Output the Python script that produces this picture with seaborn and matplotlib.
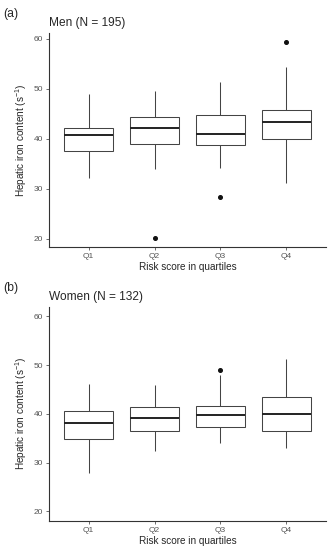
import pandas as pd
import matplotlib
matplotlib.use("Agg")
import matplotlib.pyplot as plt
import seaborn as sns

# Box summaries (whisker ends, quartiles, median, outliers)
quartiles = ["Q1", "Q2", "Q3", "Q4"]

men_lo = [32.2, 33.9, 34.2, 31.1]
men_q1 = [37.5, 38.9, 38.7, 39.9]
men_med = [40.8, 42.1, 41.0, 43.3]
men_q3 = [42.2, 44.4, 44.8, 45.8]
men_hi = [49.0, 49.5, 51.4, 54.4]
men_out = [[], [20.2], [28.4], [59.3]]

women_lo = [27.8, 32.4, 34.0, 33.0]
women_q1 = [34.8, 36.4, 37.3, 36.5]
women_med = [38.2, 39.2, 39.7, 40.0]
women_q3 = [40.6, 41.5, 41.6, 43.5]
women_hi = [46.2, 46.0, 47.9, 51.3]
women_out = [[], [], [49.1], []]

sns.set_theme(style="white")
plt.rcParams['font.family'] = ['Liberation Sans', 'DejaVu Sans']
plt.rcParams['mathtext.fontset'] = 'custom'
plt.rcParams['mathtext.rm'] = 'Liberation Sans'
plt.rcParams['mathtext.it'] = 'Liberation Sans'
plt.rcParams['mathtext.default'] = 'regular'


def to_long(lo, q1, med, q3, hi, out):
    # points whose quartiles and whiskers reproduce the read-off summaries
    rows = []
    for g, a, b, c, d, e, o in zip(quartiles, lo, q1, med, q3, hi, out):
        vals = [a] + [b] * 3 + [c] * 3 + [d] * 3 + [e] + list(o)
        rows += [(g, v) for v in vals]
    return pd.DataFrame(rows, columns=["quartile", "value"])


men = to_long(men_lo, men_q1, men_med, men_q3, men_hi, men_out)
women = to_long(women_lo, women_q1, women_med, women_q3, women_hi, women_out)

fig = plt.figure(figsize=(3.34, 5.5), dpi=100)
W, H = 334, 550
panels = [
    (men, "(a)", "Men (N = 195)", 33, 247, (18.3, 61.2), 14, 22.7),
    (women, "(b)", "Women (N = 132)", 306.7, 521, (18.0, 62.0), 288.3, 296.7),
]

for df, tag, title, top, bot, ylim, tag_y, title_y in panels:
    ax = fig.add_axes([49 / W, 1 - bot / H, (326 - 49) / W, (bot - top) / H])
    sns.boxplot(data=df, x="quartile", y="value", ax=ax, order=quartiles,
                width=0.75, color="white", linecolor="#444444", linewidth=0.75,
                showcaps=False, whis=1.5,
                medianprops=dict(color="#222222", linewidth=1.4),
                flierprops=dict(marker="o", markerfacecolor="#111111",
                                markeredgecolor="#111111", markersize=2.6))
    ax.set_xlim(-0.6, 3.6)
    ax.set_ylim(*ylim)
    ax.set_yticks([20, 30, 40, 50, 60])
    sns.despine(ax=ax)
    for s in ["left", "bottom"]:
        ax.spines[s].set_color("#333333")
        ax.spines[s].set_linewidth(0.8)
    ax.tick_params(axis="both", labelsize=6, colors="#555555", length=2.5,
                   width=0.6, pad=2, left=True, bottom=True)
    ax.set_xlabel("Risk score in quartiles", fontsize=7.2, labelpad=1)
    ax.set_ylabel(r"Hepatic iron content (s$^{-1}$)", fontsize=7.2, labelpad=3)
    fig.text(3 / W, 1 - tag_y / H, tag, fontsize=8.8, va="center", ha="left")
    fig.text(49 / W, 1 - title_y / H, title, fontsize=8.6, va="center", ha="left")

fig.savefig("out.png", dpi=100, facecolor="white")
